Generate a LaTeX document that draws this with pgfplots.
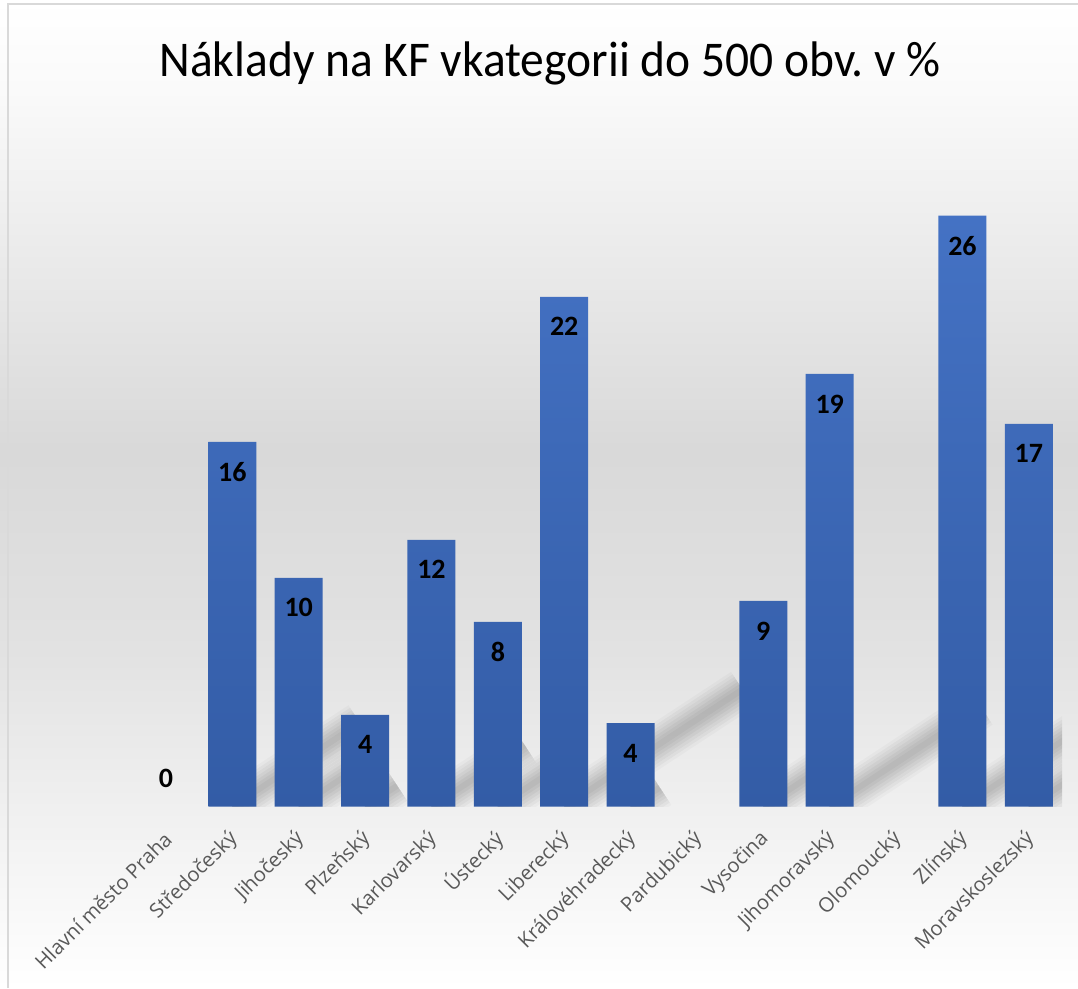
\documentclass[border=0pt]{standalone}
\usepackage{pgfplots}
\usepackage{pgfplotstable}
\pgfplotsset{compat=1.18}
\usepackage{fontspec}
\setmainfont{Open Sans}
\newfontfamily\carlito{Carlito}
\definecolor{barTop}{HTML}{4472C4}
\definecolor{barBot}{HTML}{335CA6}
\definecolor{tickgray}{HTML}{595959}
\pgfdeclareverticalshading{bgshade}{100bp}{%
  color(0bp)=(white);
  color(25bp)=(white);
  color(34.2bp)=(white!94!black);
  color(42.1bp)=(white!88.6!black);
  color(52.2bp)=(white!85!black);
  color(64.9bp)=(white!94!black);
  color(70.4bp)=(white!98!black);
  color(75bp)=(white);
  color(100bp)=(white)}
% values in % (Pardubický and Olomoucký have no bar)
\pgfplotstableread{
x h
1 16.05
2 10.07
3 4.04
4 11.74
5 8.13
6 22.43
7 3.68
9 9.05
10 19.04
12 26.0
13 16.84
}\bardata
\newcommand\barshadow[2]{%
  \draw[black, line width=42pt, opacity=0.025] (axis cs:#1,0) -- (axis cs:{#1+0.1198*#2},{0.23*#2});
  \draw[black, line width=36pt, opacity=0.03] (axis cs:#1,0) -- (axis cs:{#1+0.1198*#2},{0.23*#2});
  \draw[black, line width=30pt, opacity=0.03] (axis cs:#1,0) -- (axis cs:{#1+0.1198*#2},{0.23*#2});
  \draw[black, line width=24pt, opacity=0.035] (axis cs:#1,0) -- (axis cs:{#1+0.1198*#2},{0.23*#2});
  \draw[black, line width=18pt, opacity=0.035] (axis cs:#1,0) -- (axis cs:{#1+0.1198*#2},{0.23*#2});
  \draw[black, line width=12pt, opacity=0.035] (axis cs:#1,0) -- (axis cs:{#1+0.1198*#2},{0.23*#2});
  \draw[black, line width=6pt, opacity=0.03] (axis cs:#1,0) -- (axis cs:{#1+0.1198*#2},{0.23*#2});
}
\begin{document}
\begin{tikzpicture}[x=1pt,y=1pt]
\useasboundingbox (0,0) rectangle (1078,988);
\shade[shading=bgshade] (0,0) rectangle (1078,988);
\draw[color=white!85!black, line width=1.5pt] (8,0) -- (8,984) -- (1078,984);
\node[font=\carlito\fontsize{50}{60}\selectfont, anchor=base, inner sep=0pt] at (550,911) {\scalebox{0.95}[1]{Náklady na KF vkategorii do 500 obv.\ v \%}};
\begin{axis}[
  at={(132.8pt,181.3pt)}, anchor=south west, scale only axis,
  width=929.2pt, height=682pt,
  xmin=-0.5, xmax=13.5, ymin=0, ymax=30,
  ybar, bar width=0.723, bar shift=0pt,
  hide y axis,
  axis x line*=bottom,
  x axis line style={draw=none},
  major tick length=0pt,
  xtick={0,...,13},
  xticklabels={Hlavní město Praha,Středočeský,Jihočeský,Plzeňský,Karlovarský,Ústecký,Liberecký,Královéhradecký,Pardubický,Vysočina,Jihomoravský,Olomoucký,Zlínský,Moravskoslezský},
  xticklabel style={font=\fontsize{20.2}{22}\selectfont, text=tickgray, xshift=2pt, yshift=-29pt, rotate=45, anchor=east, inner sep=0pt},
]
\pgfplotsforeachungrouped \i in {0,...,10}{%
  \pgfplotstablegetelem{\i}{x}\of\bardata \let\sx\pgfplotsretval
  \pgfplotstablegetelem{\i}{h}\of\bardata \let\sh\pgfplotsretval
  \edef\tmp{\noexpand\barshadow{\sx}{\sh}}\tmp
}
\addplot[draw=none, top color=barTop, bottom color=barBot,
  nodes near coords={\pgfmathprintnumber[fixed,precision=0,assume math mode=true]{\pgfplotspointmeta}},
  every node near coord/.style={font=\carlito\bfseries\fontsize{28}{32}\selectfont, anchor=center, yshift=-30pt, text=black}]
  table[x=x, y=h] {\bardata};
\addplot[draw=none, fill=none,
  nodes near coords={\pgfmathprintnumber[fixed,precision=0,assume math mode=true]{\pgfplotspointmeta}},
  every node near coord/.style={font=\carlito\bfseries\fontsize{28}{32}\selectfont, anchor=center, yshift=28pt, text=black}]
  coordinates {(0,0)};
\end{axis}
\end{tikzpicture}
\end{document}
